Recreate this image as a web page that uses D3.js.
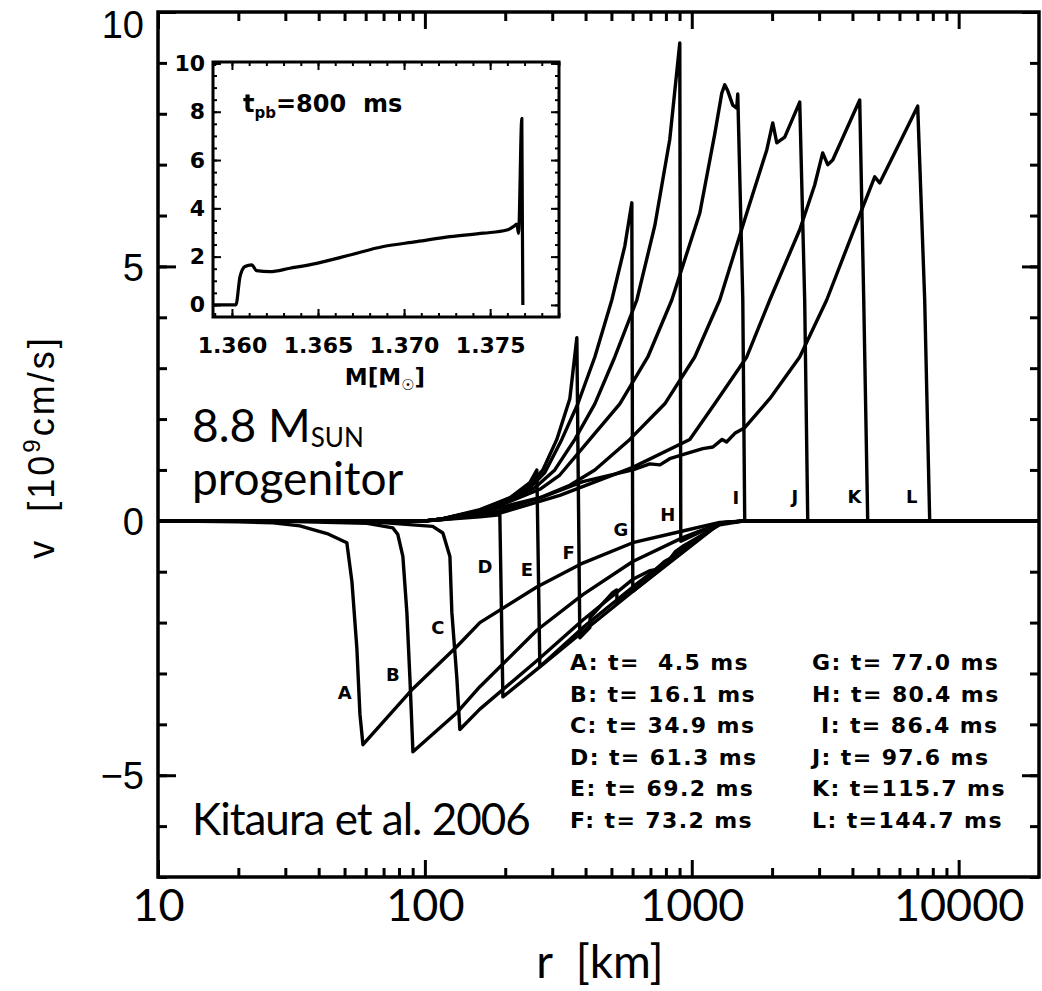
<!DOCTYPE html>
<html>
<head>
<meta charset="utf-8">
<title>Velocity profiles - 8.8 Msun progenitor</title>
<script src="https://d3js.org/d3.v7.min.js"></script>
<style>
  body { margin: 0; background: #fff; }
  svg { display: block; }
  .pre { white-space: pre; }
</style>
</head>
<body>
<div id="chart"></div>
<script>
// snapshots A..L : [r (km), v (1e9 cm/s)]
const curveA = [[10,0],[20,-0.02],[27,-0.04],[34,-0.1],[43,-0.25],[51,-0.43],[53.3,-1.2],[55.6,-2.5],[57.1,-3.8],[58.6,-4.4],
  [90.2,-3.3],[131.8,-2.47],[160.7,-2.0],[262.7,-1.3],[390.7,-0.83],[601,-0.43],[925,-0.2],[1273,-0.03],[1579,0],[20000,0]];
const curveB = [[10,0],[30,-0.01],[60.7,-0.05],[75.9,-0.14],[79.2,-0.27],[82.7,-0.7],[85.6,-1.8],[87.9,-3.1],[90.2,-4.54],
  [131.8,-3.77],[160.7,-3.26],[262.7,-2.15],[390.7,-1.45],[601,-0.8],[925,-0.33],[1273,-0.05],[1579,0],[20000,0]];
const curveC = [[10,0],[60,-0.01],[107,-0.11],[116.8,-0.24],[124.1,-0.7],[126.2,-1.8],[131.8,-3.1],[135.2,-4.1],
  [160.7,-3.7],[262.7,-2.75],[390.7,-1.95],[601,-1.15],[696,-0.98],[730,-0.96],[790,-0.8],[830,-0.74],[870,-0.6],
  [925,-0.5],[1273,-0.08],[1579,0],[20000,0]];
const curveD = [[10,0],[100,0],[113.8,0.02],[160.7,0.08],[190.9,0.12],[196,-3.46],
  [269.6,-2.87],[390.7,-2.18],[601,-1.39],[925,-0.62],[1273,-0.05],[1579,0],[20000,0]];
const curveE = [[10,0],[100,0],[113.8,0.03],[160.7,0.2],[208.2,0.45],[247.4,0.75],[262.7,1.0],[269.6,-2.87],
  [390.7,-2.1],[601,-1.3],[925,-0.55],[1273,-0.04],[1579,0],[20000,0]];
const curveF = [[10,0],[100,0],[113.8,0.03],[160.7,0.22],[208.2,0.45],[247.4,0.7],[276.7,1.0],[312.1,1.6],[349.2,2.4],[371,3.6],
  [380.7,-2.3],[415,-2.1],[416,-1.9],[505,-1.41],[523,-1.36],[525,-1.62],[601,-1.36],[925,-0.58],[1273,-0.05],[1579,0],[20000,0]];
const curveG = [[10,0],[100,0],[113.8,0.03],[160.7,0.2],[208.2,0.42],[247.4,0.65],[281.5,0.95],[325.9,1.6],[374.2,2.3],
  [433.3,3.22],[501.7,4.34],[561.2,5.4],[596.2,6.25],[601.3,-1.39],[925,-0.6],[1273,-0.04],[1579,0],[20000,0]];
const curveH = [[10,0],[100,0],[113.8,0.03],[160.7,0.2],[208.2,0.4],[258.2,0.65],[306.8,1.0],[364.6,1.6],[433.3,2.3],
  [514.8,3.22],[622.5,4.34],[726.9,5.8],[827.3,7.5],[901.8,9.39],[909.6,-0.4],[1273,-0.04],[1579,0],[20000,0]];
const curveI = [[10,0],[100,0],[113.8,0.03],[160.7,0.18],[208.2,0.38],[269.6,0.62],[320.3,0.9],[415,1.6],[537.5,2.3],
  [684.4,3.22],[841.7,4.34],[1072,6.05],[1219,7.6],[1295,8.4],[1329,8.57],[1364,8.45],[1424,8.17],[1474,8.11],[1487,8.39],
  [1553,4.34],[1579,0],[20000,0]];
const curveJ = [[10,0],[100,0],[113.8,0.03],[190.9,0.2],[269.6,0.45],[349.2,0.7],[433.3,1.0],[586,1.6],[792.4,2.3],
  [1026,3.22],[1273,4.34],[1607,6.05],[1910,7.29],[2011,7.82],[2082,7.43],[2230,7.54],[2538,8.23],[2649,4.34],[2720,0],[20000,0]];
const curveK = [[10,0],[100,0],[113.8,0.02],[190.9,0.15],[320.3,0.5],[601,1.05],[983,1.6],[1219,2.3],[1607,3.22],
  [1960,4.34],[2538,5.72],[2888,6.6],[3094,7.23],[3231,7.0],[3374,7.09],[4258,8.27],[4409,4.34],[4563,0],[20000,0]];
const curveL = [[10,0],[100,0],[113.8,0.02],[164.9,0.18],[276.7,0.47],[390.7,0.77],[601,1.0],[696,1.12],[760,1.1],[827,1.22],
  [925,1.3],[1100,1.42],[1200,1.45],[1300,1.6],[1350,1.55],[1450,1.72],[1579,1.83],[1960,2.4],[2538,3.22],[3203,4.34],
  [4009,5.66],[4847,6.76],[5061,6.64],[6012,7.43],[7022,8.15],[7460,4.34],[7789,0],[20000,0]];

const curves = [curveA, curveB, curveC, curveD, curveE, curveF, curveG, curveH, curveI, curveJ, curveK, curveL];
const curveNames = ["A", "B", "C", "D", "E", "F", "G", "H", "I", "J", "K", "L"];
// where the letters sit on the plot (r, v)
const labelR = [50.1, 75.9, 111.9, 167.8, 241, 346, 542, 813, 1462, 2432, 4074, 6668];
const labelV = [-3.38, -3.03, -2.1, -0.9, -0.96, -0.63, -0.18, 0.12, 0.45, 0.47, 0.47, 0.47];
const legendTimes = ["  4.5", " 16.1", " 34.9", " 61.3", " 69.2", " 73.2", " 77.0", " 80.4", " 86.4", " 97.6", "115.7", "144.7"];

// inset: v vs enclosed mass at t_pb = 800 ms
const insetMass = [1.3589, 1.36023, 1.36047, 1.36076, 1.36115, 1.36143, 1.3622, 1.36337, 1.36492, 1.36686, 1.3688,
  1.37074, 1.37267, 1.37461, 1.37597, 1.37635, 1.37655, 1.37665, 1.37684, 1.3769];
const insetVel = [0, 0, 1.17, 1.59, 1.66, 1.42, 1.38, 1.52, 1.72, 2.07, 2.42, 2.62, 2.83, 2.97, 3.1, 3.24, 3.35, 2.96, 7.73, 0];

const xMajor = [10, 100, 1000, 10000];
const yMajor = [-5, 0, 5, 10];
const insetXMajor = [1.360, 1.365, 1.370, 1.375];
const insetYMajor = [0, 2, 4, 6, 8, 10];

const width = 1042, height = 991;

const svg = d3.select("#chart").append("svg")
  .attr("width", width).attr("height", height);

// main scales
const x = d3.scaleLog().domain([10, 20000]).range([158, 1039]);
const y = d3.scaleLinear().domain([-7, 10]).range([877, 12]);

const xMinor = [];
[10, 100, 1000, 10000].forEach(d => d3.range(2, 10).forEach(k => { if (d * k < 20000) xMinor.push(d * k); }));
const yMinor = d3.range(-7, 11);

function tickStyle(g, w) {
  g.select(".domain").remove();
  g.selectAll(".tick line").attr("stroke", "#000").attr("stroke-width", w);
}

// ticks on all four sides, pointing inward
svg.append("g").attr("transform", "translate(0,877)")
  .call(d3.axisBottom(x).tickValues(xMinor).tickSize(-9).tickFormat("")).call(tickStyle, 3);
svg.append("g").attr("transform", "translate(0,12)")
  .call(d3.axisTop(x).tickValues(xMinor).tickSize(-9).tickFormat("")).call(tickStyle, 3);
svg.append("g").attr("transform", "translate(0,12)")
  .call(d3.axisTop(x).tickValues(xMajor).tickSize(-17).tickFormat("")).call(tickStyle, 3);
svg.append("g").attr("transform", "translate(1039,0)")
  .call(d3.axisRight(y).tickValues(yMinor).tickSize(-9).tickFormat("")).call(tickStyle, 3);
svg.append("g").attr("transform", "translate(1039,0)")
  .call(d3.axisRight(y).tickValues(yMajor).tickSize(-17).tickFormat("")).call(tickStyle, 3);
svg.append("g").attr("transform", "translate(158,0)")
  .call(d3.axisLeft(y).tickValues(yMinor).tickSize(-9).tickFormat("")).call(tickStyle, 3);

const xAxis = svg.append("g").attr("transform", "translate(0,877)")
  .call(d3.axisBottom(x).tickValues(xMajor).tickSize(-17).tickPadding(12).tickFormat(d3.format("d")))
  .call(tickStyle, 3);
xAxis.selectAll("text")
  .attr("font-family", "Lato, 'Liberation Sans', sans-serif")
  .attr("font-size", 45).attr("fill", "#000");

const yAxis = svg.append("g").attr("transform", "translate(158,0)")
  .call(d3.axisLeft(y).tickValues(yMajor).tickSize(-18).tickPadding(14).tickFormat(d => d < 0 ? "\u2212" + (-d) : d))
  .call(tickStyle, 3);
yAxis.selectAll("text")
  .attr("font-family", "'Liberation Sans', Arial, sans-serif")
  .attr("font-size", 38).attr("fill", "#000")
  .attr("dy", d => d === 10 ? "0.68em" : "0.36em");

// axis titles
svg.append("text")
  .attr("x", 600).attr("y", 978)
  .attr("text-anchor", "middle")
  .attr("font-family", "Lato, 'Liberation Sans', sans-serif")
  .attr("font-size", 46)
  .attr("class", "pre")
  .text("r  [km]");

const yTitle = svg.append("text")
  .attr("transform", "translate(54,447) rotate(-90)")
  .attr("text-anchor", "middle")
  .attr("font-family", "'Liberation Sans', Arial, sans-serif")
  .attr("font-size", 36)
  .attr("letter-spacing", 3)
  .attr("class", "pre");
yTitle.append("tspan").text("v  [10");
yTitle.append("tspan").attr("font-size", 24).attr("dy", -14).text("9");
yTitle.append("tspan").attr("dy", 14).text("cm/s]");

// curves
const line = d3.line()
  .x(d => x(d[0]))
  .y(d => y(d[1]));

svg.append("g").selectAll("path")
  .data(curves)
  .join("path")
  .attr("d", line)
  .attr("fill", "none")
  .attr("stroke", "#000")
  .attr("stroke-width", 3.4)
  .attr("stroke-linejoin", "round");

// letters on the curves
svg.append("g").selectAll("text")
  .data(curveNames)
  .join("text")
  .attr("x", (d, i) => x(labelR[i]))
  .attr("y", (d, i) => y(labelV[i]))
  .attr("dy", "0.36em")
  .attr("text-anchor", "middle")
  .attr("font-family", "'DejaVu Sans', sans-serif")
  .attr("font-weight", "bold")
  .attr("font-size", 18)
  .text(d => d);

// legend of times, two columns of six
svg.append("g").selectAll("text")
  .data(curveNames)
  .join("text")
  .attr("class", "pre")
  .attr("x", (d, i) => i < 6 ? 570 : 812)
  .attr("y", (d, i) => 670 + (i % 6) * 31.5)
  .attr("font-family", "'DejaVu Sans', sans-serif")
  .attr("font-weight", "bold")
  .attr("font-size", 22)
  .attr("letter-spacing", 1.4)
  .text((d, i) => (d === "I" ? " " : "") + d + ": t=" + legendTimes[i] + " ms");

// annotations
const prog = svg.append("text")
  .attr("x", 192).attr("y", 442)
  .attr("font-family", "Lato, 'Liberation Sans', sans-serif")
  .attr("font-size", 46);
prog.append("tspan").text("8.8 M");
prog.append("tspan").attr("font-size", 26).attr("dy", 5).text("SUN");

svg.append("text")
  .attr("x", 192).attr("y", 495)
  .attr("font-family", "Lato, 'Liberation Sans', sans-serif")
  .attr("font-size", 46)
  .text("progenitor");

svg.append("text")
  .attr("x", 192).attr("y", 835)
  .attr("font-family", "Lato, 'Liberation Sans', sans-serif")
  .attr("font-size", 44)
  .attr("letter-spacing", -1)
  .text("Kitaura et al. 2006");

// main frame
svg.append("rect")
  .attr("x", 158).attr("y", 12)
  .attr("width", 1039 - 158).attr("height", 877 - 12)
  .attr("fill", "none").attr("stroke", "#000").attr("stroke-width", 3.5);

// ---------- inset ----------
const ix = d3.scaleLinear().domain([1.3589, 1.3790]).range([213, 559]);
const iy = d3.scaleLinear().domain([-0.5, 10.06]).range([317, 62]);
const inset = svg.append("g");

inset.append("rect")
  .attr("x", 213).attr("y", 62).attr("width", 559 - 213).attr("height", 317 - 62)
  .attr("fill", "#fff");

const ixMinor = d3.range(1.359, 1.3791, 0.001);
const iyMinor = d3.range(0, 10.01, 0.5);

inset.append("g").attr("transform", "translate(0,62)")
  .call(d3.axisTop(ix).tickValues(ixMinor).tickSize(-4).tickFormat("")).call(tickStyle, 2);
inset.append("g").attr("transform", "translate(0,62)")
  .call(d3.axisTop(ix).tickValues(insetXMajor).tickSize(-8).tickFormat("")).call(tickStyle, 2);
inset.append("g").attr("transform", "translate(0,317)")
  .call(d3.axisBottom(ix).tickValues(ixMinor).tickSize(-4).tickFormat("")).call(tickStyle, 2);
inset.append("g").attr("transform", "translate(559,0)")
  .call(d3.axisRight(iy).tickValues(iyMinor).tickSize(-4).tickFormat("")).call(tickStyle, 2);
inset.append("g").attr("transform", "translate(559,0)")
  .call(d3.axisRight(iy).tickValues(insetYMajor).tickSize(-8).tickFormat("")).call(tickStyle, 2);
inset.append("g").attr("transform", "translate(213,0)")
  .call(d3.axisLeft(iy).tickValues(iyMinor).tickSize(-4).tickFormat("")).call(tickStyle, 2);

const ixAxis = inset.append("g").attr("transform", "translate(0,317)")
  .call(d3.axisBottom(ix).tickValues(insetXMajor).tickSize(-8).tickPadding(20).tickFormat(d3.format(".3f")))
  .call(tickStyle, 2);
const iyAxis = inset.append("g").attr("transform", "translate(213,0)")
  .call(d3.axisLeft(iy).tickValues(insetYMajor).tickSize(-8).tickPadding(8).tickFormat(d3.format("d")))
  .call(tickStyle, 2);
[ixAxis, iyAxis].forEach(g => g.selectAll("text")
  .attr("font-family", "'DejaVu Sans', sans-serif")
  .attr("font-weight", "bold")
  .attr("font-size", 22)
  .attr("fill", "#000"));

const insetLine = d3.line()
  .x((d, i) => ix(insetMass[i]))
  .y(d => iy(d))
  .curve(d3.curveMonotoneX);

inset.append("path")
  .datum(insetVel)
  .attr("d", insetLine)
  .attr("fill", "none")
  .attr("stroke", "#000")
  .attr("stroke-width", 3.2)
  .attr("stroke-linejoin", "round");

inset.append("rect")
  .attr("x", 213).attr("y", 62).attr("width", 559 - 213).attr("height", 317 - 62)
  .attr("fill", "none").attr("stroke", "#000").attr("stroke-width", 3);

const tpb = inset.append("text")
  .attr("x", 243).attr("y", 112)
  .attr("class", "pre")
  .attr("font-family", "'DejaVu Sans', sans-serif")
  .attr("font-weight", "bold")
  .attr("font-size", 24);
tpb.append("tspan").text("t");
tpb.append("tspan").attr("font-size", 15).attr("dy", 6).text("pb");
tpb.append("tspan").attr("dy", -6).text("=800  ms");

const mLab = inset.append("text")
  .attr("x", 385).attr("y", 385)
  .attr("text-anchor", "middle")
  .attr("font-family", "'DejaVu Sans', sans-serif")
  .attr("font-weight", "bold")
  .attr("font-size", 23);
mLab.append("tspan").text("M[M");
mLab.append("tspan").attr("font-size", 15).attr("dy", 5).text("\u2609");
mLab.append("tspan").attr("dy", -5).text("]");
</script>
</body>
</html>
